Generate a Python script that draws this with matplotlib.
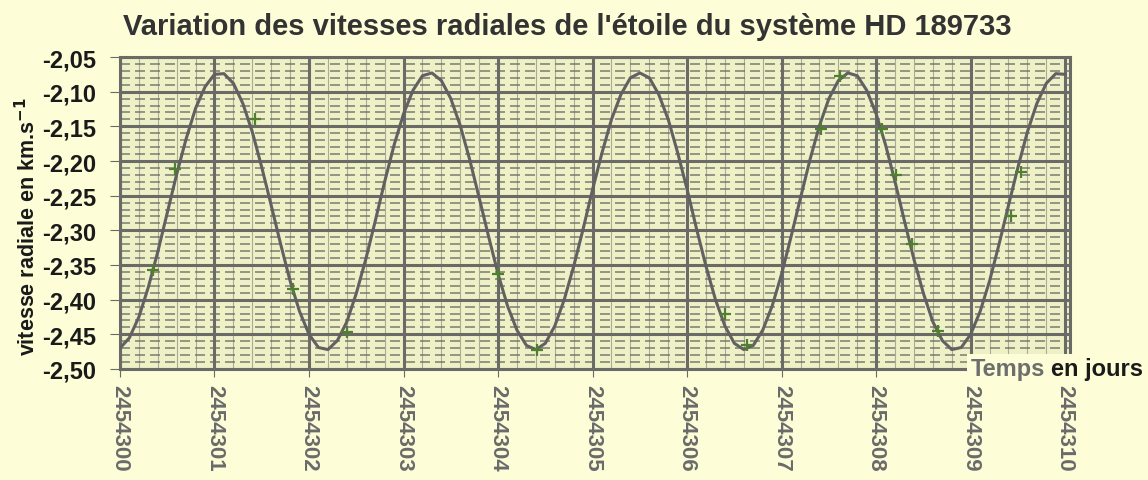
import numpy as np
import matplotlib
matplotlib.use("Agg")
import matplotlib.pyplot as plt
from matplotlib.ticker import FuncFormatter, MultipleLocator

plt.rcParams["font.family"] = ["Liberation Sans", "DejaVu Sans"]

# =========================================================
# Data
# =========================================================

jd0 = 2454300
# sample times, days after JD 2454300 (every 0.1 day)
t_days = np.round(np.arange(0, 10.01, 0.1), 1)

v_rad = [
    -2.470, -2.455, -2.425, -2.382, -2.331, -2.275, -2.219, -2.168, -2.124, -2.093,
    -2.075, -2.074, -2.088, -2.117, -2.158, -2.209, -2.264, -2.320, -2.373, -2.417,
    -2.450, -2.469, -2.472, -2.459, -2.432, -2.391, -2.342, -2.287, -2.230, -2.177,
    -2.132, -2.098, -2.077, -2.073, -2.084, -2.110, -2.149, -2.198, -2.253, -2.309,
    -2.363, -2.409, -2.444, -2.466, -2.472, -2.463, -2.438, -2.400, -2.352, -2.298,
    -2.241, -2.188, -2.140, -2.104, -2.080, -2.073, -2.080, -2.104, -2.140, -2.188,
    -2.241, -2.298, -2.352, -2.400, -2.438, -2.463, -2.472, -2.466, -2.444, -2.409,
    -2.363, -2.309, -2.253, -2.198, -2.149, -2.110, -2.084, -2.073, -2.077, -2.098,
    -2.132, -2.177, -2.230, -2.287, -2.342, -2.391, -2.432, -2.459, -2.472, -2.469,
    -2.450, -2.417, -2.373, -2.320, -2.264, -2.209, -2.158, -2.117, -2.088, -2.074,
    -2.075,
]

# measured points (green crosses)
t_mes = [0.35, 0.58, 1.43, 1.83, 2.40, 4.00, 4.41, 6.40, 6.63,
         7.42, 7.62, 8.06, 8.21, 8.38, 8.65, 9.43, 9.53]
v_mes = [-2.357, -2.212, -2.139, -2.385, -2.446, -2.363, -2.472, -2.420, -2.465,
         -2.154, -2.077, -2.154, -2.220, -2.320, -2.445, -2.280, -2.216]

x_ticks = list(range(jd0, jd0 + 11))

# =========================================================
# Plot
# =========================================================

bg = "#fdfdd8"
grid_col = "#6a6a66"

fig = plt.figure(figsize=(11.48, 4.81), dpi=100)
fig.patch.set_facecolor(bg)
ax = fig.add_axes([0.1045, 0.2308, 0.8275, 0.6486])
ax.set_facecolor("#eef0c6")

ax.plot(jd0 + t_days, v_rad, color="#616161", lw=2.2, zorder=3)
ax.plot(jd0 + np.array(t_mes), v_mes, ls="none", marker="+",
        ms=9, mew=1.6, color="#4f7f2f", zorder=4)

ax.set_xlim(jd0, jd0 + 10.05)
ax.set_ylim(-2.50, -2.05)

ax.set_xticks(x_ticks)
ax.xaxis.set_minor_locator(MultipleLocator(0.2))
ax.yaxis.set_major_locator(MultipleLocator(0.05))
ax.yaxis.set_minor_locator(MultipleLocator(0.01))

ax.xaxis.set_major_formatter(FuncFormatter(lambda v, p: f"{int(round(v))}"))
ax.yaxis.set_major_formatter(
    FuncFormatter(lambda v, p: f"{v:.2f}".replace(".", ","))
)

ax.grid(which="major", color=grid_col, lw=2.2, zorder=1)
ax.grid(which="minor", axis="y", color=grid_col, lw=1.2, ls=(0, (6, 3)),
        alpha=0.8, zorder=1)
ax.grid(which="minor", axis="x", color=grid_col, lw=0.8, alpha=0.5, zorder=1)

for s in ["top", "right", "left", "bottom"]:
    ax.spines[s].set_color(grid_col)
    ax.spines[s].set_linewidth(2.2)

ax.tick_params(axis="y", which="major", labelsize=17, length=7,
               color=grid_col, labelcolor="#1a1a1a", pad=10)
ax.tick_params(axis="x", which="major", labelsize=16, length=6,
               color=grid_col, labelcolor="#6a6a6a", labelrotation=-90, pad=5)
ax.tick_params(which="minor", length=0)
for lab in ax.get_yticklabels():
    lab.set_fontweight("bold")
for lab in ax.get_xticklabels():
    lab.set_va("top")
    lab.set_fontweight("bold")

ax.set_ylabel("vitesse radiale en km.s$^{\\mathbf{-1}}$", fontsize=15.5,
              fontweight="bold", color="#1a1a1a", labelpad=10)
ax.yaxis.set_label_coords(-0.084, 0.46)

fig.text(0.494, 0.944, "Variation des vitesses radiales de l'étoile du système HD 189733",
         ha="center", va="center", fontsize=21, fontweight="bold", color="#333333")

fig.text(0.910, 0.231, "Temps", ha="right", va="center", fontsize=17,
         fontweight="bold", color="#6e6e6e",
         bbox=dict(boxstyle="square,pad=0.15", fc=bg, ec="none"))
fig.text(0.9155, 0.231, "en jours", ha="left", va="center", fontsize=17,
         fontweight="bold", color="#1a1a1a",
         bbox=dict(boxstyle="square,pad=0.15", fc=bg, ec="none"))

# =========================================================
# Save Figure
# =========================================================

plt.savefig("out.png", dpi=100, facecolor=bg)
